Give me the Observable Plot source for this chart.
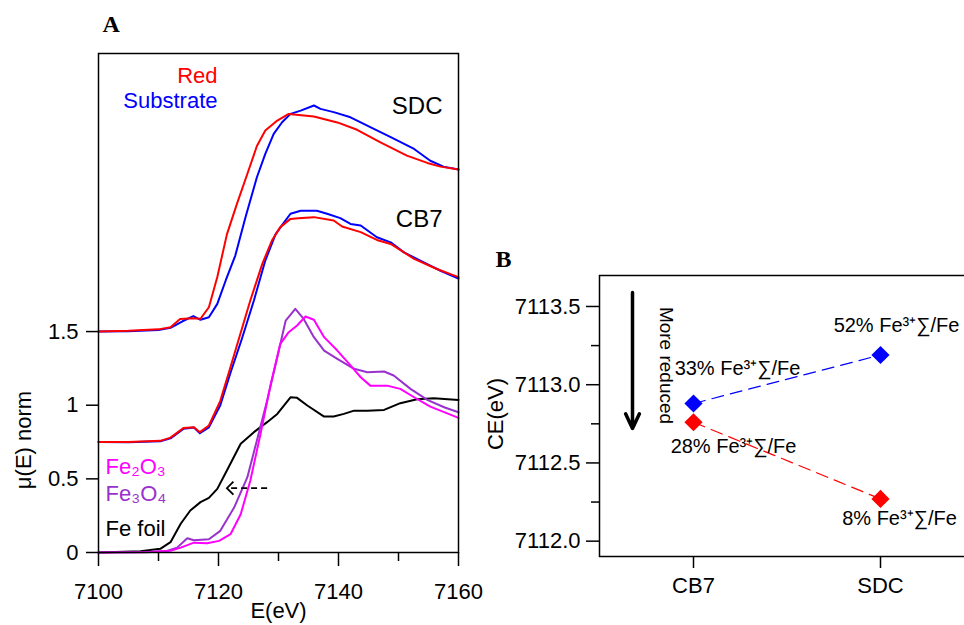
<!DOCTYPE html>
<html><head><meta charset="utf-8">
<script src="https://cdn.jsdelivr.net/npm/d3@7"></script>
<script src="https://cdn.jsdelivr.net/npm/@observablehq/plot@0.6"></script>
<style>
body{margin:0;background:#fff;}
#wrap{position:relative;width:964px;height:625px;overflow:hidden;background:#fff;}
#wrap svg{position:absolute;top:0;}
</style></head><body><div id="wrap"></div>
<script>
// ---------- Panel A data: [E (eV), normalized mu(E) as plotted, with offsets] ----------
const sdcSubstrate = [[7100,1.50],[7105,1.503],[7110,1.51],[7112,1.525],[7114,1.57],[7115.8,1.605],[7117,1.58],[7118.4,1.597],[7119.8,1.688],[7121.2,1.847],[7122.8,2.016],[7124.5,2.277],[7126.4,2.548],[7127.8,2.707],[7129.2,2.842],[7130.6,2.921],[7132,2.978],[7133.7,3.0],[7135.9,3.035],[7137,3.012],[7139.2,2.99],[7142,2.955],[7145.3,2.888],[7148.7,2.82],[7152.6,2.74],[7155.3,2.66],[7157.5,2.62],[7160,2.60]];
const sdcRed = [[7100,1.50],[7105,1.505],[7110,1.515],[7112,1.53],[7113.6,1.585],[7115.6,1.59],[7117,1.587],[7118.4,1.665],[7119.8,1.87],[7121.4,2.16],[7123.1,2.37],[7124.8,2.57],[7126.4,2.76],[7127.8,2.865],[7129.8,2.933],[7131.7,2.978],[7135.9,2.96],[7139.8,2.92],[7143.1,2.87],[7147,2.785],[7151.4,2.695],[7154.8,2.645],[7157,2.62],[7160,2.60]];
const cb7Substrate = [[7100,0.75],[7105,0.748],[7110.3,0.755],[7112,0.775],[7114.2,0.84],[7115.9,0.848],[7116.9,0.81],[7118.4,0.85],[7120.3,1.0],[7122,1.22],[7123.9,1.451],[7125.9,1.711],[7127.8,1.982],[7129.5,2.16],[7130.9,2.24],[7132,2.3],[7133.7,2.32],[7136.4,2.32],[7138.1,2.3],[7140.3,2.27],[7142,2.231],[7143.7,2.22],[7146.4,2.14],[7148.7,2.106],[7150.9,2.038],[7154.2,1.97],[7157,1.913],[7160,1.86]];
const cb7Red = [[7100,0.75],[7105,0.75],[7110.3,0.758],[7112,0.78],[7114.2,0.846],[7115.9,0.85],[7116.9,0.817],[7118.4,0.862],[7120.3,1.03],[7122,1.26],[7123.4,1.451],[7125.3,1.711],[7127.3,1.96],[7128.9,2.118],[7130.3,2.209],[7132,2.265],[7133.3,2.27],[7135.9,2.277],[7139.2,2.254],[7140.6,2.213],[7143.7,2.175],[7146.4,2.122],[7148.7,2.095],[7152.6,1.994],[7156.4,1.925],[7160,1.87]];
const feFoil = [[7100,0.0],[7107,0.009],[7110.3,0.025],[7112,0.07],[7113.7,0.195],[7115.3,0.285],[7117,0.342],[7118.4,0.371],[7119.8,0.432],[7121.4,0.557],[7123.7,0.738],[7125.9,0.817],[7128.1,0.885],[7129.8,0.941],[7132,1.054],[7133.1,1.05],[7134.8,0.998],[7137.6,0.923],[7139.2,0.923],[7140.9,0.941],[7142.6,0.963],[7144.8,0.963],[7147.6,0.968],[7150.3,1.014],[7153.1,1.04],[7155.9,1.047],[7160,1.036]];
const fe3o4 = [[7100,0.0],[7108,0.003],[7111.4,0.01],[7113.1,0.033],[7114.8,0.097],[7115.9,0.083],[7118.4,0.09],[7120.3,0.147],[7122.6,0.305],[7124.8,0.51],[7126.4,0.76],[7128.1,1.031],[7129.8,1.326],[7131.2,1.575],[7132.8,1.654],[7134.2,1.586],[7135.9,1.462],[7137.6,1.371],[7139.8,1.315],[7142.6,1.247],[7144.8,1.224],[7147.6,1.229],[7149.2,1.202],[7152,1.111],[7154.8,1.036],[7157.6,0.986],[7160,0.952]];
const fe2o3 = [[7100,0.0],[7108,0.002],[7112,0.012],[7113.7,0.033],[7115.9,0.067],[7118.1,0.063],[7120.1,0.079],[7122,0.124],[7123.7,0.26],[7125.3,0.487],[7127,0.804],[7128.7,1.143],[7130.3,1.417],[7131.7,1.496],[7133.1,1.541],[7134.5,1.602],[7135.9,1.58],[7137.6,1.462],[7139.8,1.371],[7142,1.27],[7143.7,1.19],[7145.3,1.133],[7148.1,1.133],[7150.3,1.111],[7152.6,1.054],[7155.3,0.99],[7160,0.914]];
const xTicksA = [7100, 7120, 7140, 7160];
const xMinorA = [7110, 7130, 7150];
const yTicksA = [0, 0.5, 1, 1.5];
const shiftArrow = [{from: 7128.1, to: 7121.4, mu: 0.437}];

// ---------- Panel B data ----------
const categories = ["CB7", "SDC"];
const substrateCE = [7112.88, 7113.19];
const redCE = [7112.76, 7112.27];
const substrateLabels = ["33% Fe³⁺∑/Fe", "52% Fe³⁺∑/Fe"];
const redLabels = ["28% Fe³⁺∑/Fe", "8% Fe³⁺∑/Fe"];
const yTicksB = [7112.0, 7112.5, 7113.0, 7113.5];
const yMinorB = [7112.25, 7112.75, 7113.25];
const reducedArrow = [{cat: "CB7", top: 7113.59, bottom: 7112.72}];

const FONT = "'Liberation Sans', Arial, Helvetica, sans-serif";
const SERIF = "'Liberation Serif', 'Times New Roman', serif";
const RED = "#ff0000", BLUE = "#0000ff", MAGENTA = "#ff00ff", PURPLE = "#9932cc";

const toRows = (pts) => pts.map(([E, mu]) => ({E, mu}));
const lineA = (pts, color) => Plot.line(toRows(pts), {x: "E", y: "mu", stroke: color, strokeWidth: 2, curve: "linear"});

const chevron = {draw(ctx, size) { const r = Math.sqrt(size / Math.PI); ctx.moveTo(r, -r); ctx.lineTo(0, 0); ctx.lineTo(r, r); }};

const panelA = Plot.plot({
  width: 520, height: 625,
  marginTop: 53, marginRight: 62, marginBottom: 73, marginLeft: 98,
  style: {fontFamily: FONT, fontSize: "22px", background: "transparent", color: "black"},
  x: {domain: [7100, 7160]},
  y: {domain: [0, 3.388]},
  marks: [
    lineA(feFoil, "black"),
    lineA(fe3o4, PURPLE),
    lineA(fe2o3, MAGENTA),
    lineA(cb7Substrate, BLUE),
    lineA(cb7Red, RED),
    lineA(sdcSubstrate, BLUE),
    lineA(sdcRed, RED),
    Plot.link(shiftArrow, {x1: "from", x2: d => d.to + 0.3, y1: "mu", y2: "mu", stroke: "black", strokeWidth: 1.8, strokeDasharray: "6,4"}),
    Plot.dot(shiftArrow, {x: "to", y: "mu", symbol: chevron, r: 6.5, fill: "none", stroke: "black", strokeWidth: 1.8}),
    Plot.frame({stroke: "black", strokeWidth: 1.5}),
    Plot.axisX({ticks: xTicksA, tickSize: 14, tickPadding: 17, tickFormat: d => String(d), label: null, strokeWidth: 1.5}),
    Plot.axisX({ticks: xMinorA, tickSize: 9, tickFormat: () => "", label: null, strokeWidth: 1.5}),
    Plot.axisY({ticks: yTicksA, tickSize: 12, tickPadding: 8, tickFormat: d => String(d), label: null, strokeWidth: 1.5}),
    Plot.text(["E(eV)"], {frameAnchor: "bottom", dy: 65, text: d => d, fontSize: 22}),
    Plot.text(["μ(E) norm"], {frameAnchor: "left", dx: -75, dy: 137, rotate: -90, textAnchor: "middle", text: d => d, fontSize: 22}),
    Plot.text(["A"], {frameAnchor: "top-left", dx: 4, dy: -39, textAnchor: "start", text: d => d, fontSize: 24, fontWeight: "bold", fontFamily: SERIF}),
    Plot.text(["Red"], {frameAnchor: "top-left", dx: 119, dy: 14, textAnchor: "end", text: d => d, fill: RED, fontSize: 22}),
    Plot.text(["Substrate"], {frameAnchor: "top-left", dx: 119, dy: 39, textAnchor: "end", text: d => d, fill: BLUE, fontSize: 22}),
    Plot.text(["SDC"], {frameAnchor: "top-right", dx: -16, dy: 43, textAnchor: "end", text: d => d, fontSize: 24}),
    Plot.text(["CB7"], {frameAnchor: "top-right", dx: -16, dy: 156, textAnchor: "end", text: d => d, fontSize: 24}),
    Plot.text(["Fe₂O₃"], {frameAnchor: "bottom-left", dx: 7, dy: -79, textAnchor: "start", text: d => d, fill: MAGENTA, fontSize: 22}),
    Plot.text(["Fe₃O₄"], {frameAnchor: "bottom-left", dx: 7, dy: -52, textAnchor: "start", text: d => d, fill: PURPLE, fontSize: 22}),
    Plot.text(["Fe foil"], {frameAnchor: "bottom-left", dx: 7, dy: -17, textAnchor: "start", text: d => d, fill: "black", fontSize: 22})
  ]
});

const subRows = categories.map((c, i) => ({cat: c, ce: substrateCE[i], label: substrateLabels[i]}));
const redRows = categories.map((c, i) => ({cat: c, ce: redCE[i], label: redLabels[i]}));

const panelB = Plot.plot({
  width: 500, height: 625,
  marginTop: 275, marginRight: 6, marginBottom: 69, marginLeft: 119,
  style: {fontFamily: FONT, fontSize: "22px", background: "transparent", color: "black"},
  x: {type: "point", domain: categories, padding: 0.5},
  y: {domain: [7111.902, 7113.698]},
  marks: [
    Plot.line(subRows, {x: "cat", y: "ce", stroke: BLUE, strokeWidth: 1.2, strokeDasharray: "12,7"}),
    Plot.line(redRows, {x: "cat", y: "ce", stroke: RED, strokeWidth: 1.2, strokeDasharray: "12,7"}),
    Plot.dot(subRows, {x: "cat", y: "ce", symbol: "diamond2", r: 8.2, fill: BLUE, stroke: "none"}),
    Plot.dot(redRows, {x: "cat", y: "ce", symbol: "diamond2", r: 8.2, fill: RED, stroke: "none"}),
    Plot.text(subRows.slice(0, 1), {x: "cat", y: "ce", text: "label", dx: 44, dy: -35, fontSize: 20}),
    Plot.text(subRows.slice(1, 2), {x: "cat", y: "ce", text: "label", dx: 16, dy: -29, fontSize: 20}),
    Plot.text(redRows.slice(0, 1), {x: "cat", y: "ce", text: "label", dx: 40, dy: 24, fontSize: 20}),
    Plot.text(redRows.slice(1, 2), {x: "cat", y: "ce", text: "label", dx: 19, dy: 20, fontSize: 20}),
    Plot.arrow(reducedArrow, {x1: "cat", x2: "cat", y1: "top", y2: "bottom", dx: -61, stroke: "black", strokeWidth: 3.5, headLength: 7, headAngle: 50}),
    Plot.text(["More reduced"], {frameAnchor: "top-left", dx: 67, dy: 90, rotate: 90, textAnchor: "middle", lineAnchor: "middle", text: d => d, fontSize: 19}),
    Plot.frame({stroke: "black", strokeWidth: 1.5}),
    Plot.axisX({tickSize: 12, tickPadding: 9, label: null, strokeWidth: 1.5}),
    Plot.axisY({ticks: yTicksB, tickSize: 13, tickPadding: 6, tickFormat: d3.format(".1f"), label: null, strokeWidth: 1.5}),
    Plot.axisY({ticks: yMinorB, tickSize: 8, tickFormat: () => "", label: null, strokeWidth: 1.5}),
    Plot.text(["CE(eV)"], {frameAnchor: "left", dx: -104, dy: -2, rotate: -90, textAnchor: "middle", text: d => d, fontSize: 22}),
    Plot.text(["B"], {frameAnchor: "top-left", dx: -104, dy: -26, textAnchor: "start", text: d => d, fontSize: 24, fontWeight: "bold", fontFamily: SERIF})
  ]
});
panelA.style.left = "0px";
panelB.style.left = "480px";
const wrap = document.getElementById("wrap");
wrap.appendChild(panelA);
wrap.appendChild(panelB);
</script>
</body></html>
